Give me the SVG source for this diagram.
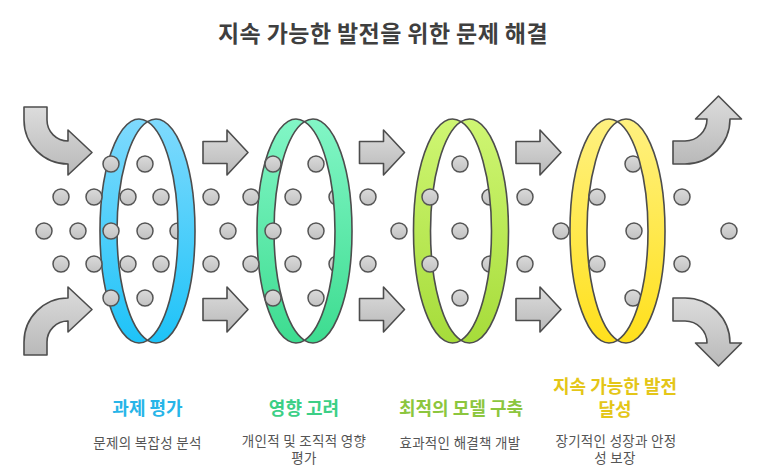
<svg xmlns="http://www.w3.org/2000/svg" width="769" height="474" viewBox="0 0 769 474">
<style>
.edge{stroke:#4d4d4d;stroke-width:1.6;stroke-linejoin:round}
.arrow{fill:url(#gArrow)}
.dot{fill:url(#gDot);stroke:#555;stroke-width:1.5}
.title{font-family:"Noto Sans CJK KR","Noto Sans",sans-serif;font-weight:700;font-size:23px;letter-spacing:0.4px;fill:#3f3f3f;text-anchor:middle}
.label{font-family:"Noto Sans CJK KR","Noto Sans",sans-serif;font-weight:700;font-size:18px;text-anchor:middle}
.desc{font-family:"Noto Sans CJK KR","Noto Sans",sans-serif;font-size:13.5px;letter-spacing:0.3px;fill:#555;text-anchor:middle}
</style>
<defs>
<linearGradient id="gArrow" x1="0" y1="0" x2="0" y2="1"><stop offset="0" stop-color="#dcdcdc"/><stop offset="1" stop-color="#b9b9b9"/></linearGradient>
<linearGradient id="gDot" x1="0" y1="0" x2="0" y2="1"><stop offset="0" stop-color="#dadada"/><stop offset="1" stop-color="#c2c2c2"/></linearGradient>
<linearGradient id="g1" x1="0" y1="0" x2="0" y2="1"><stop offset="0" stop-color="#7fdafd"/><stop offset="1" stop-color="#1ec3f8"/></linearGradient>
<linearGradient id="g2" x1="0" y1="0" x2="0" y2="1"><stop offset="0" stop-color="#82f6c6"/><stop offset="1" stop-color="#3ddc90"/></linearGradient>
<linearGradient id="g3" x1="0" y1="0" x2="0" y2="1"><stop offset="0" stop-color="#cff673"/><stop offset="1" stop-color="#a6dc3a"/></linearGradient>
<linearGradient id="g4" x1="0" y1="0" x2="0" y2="1"><stop offset="0" stop-color="#fff180"/><stop offset="1" stop-color="#ffe01c"/></linearGradient>
</defs>
<rect width="769" height="474" fill="#ffffff"/>
<text class="title" x="383" y="42">지속 가능한 발전을 위한 문제 해결</text>

<g id="connectors">
<path class="arrow edge" d="M24,107 H47 V120 A21 21 0 0 0 68,141 V130 L92,152.5 L68,175 V164 A44 44 0 0 1 24,120 Z"/>
<path class="arrow edge" d="M24,355 H47 V342 A21 21 0 0 1 68,321 V332 L92,309.5 L68,287 V298 A44 44 0 0 0 24,342 Z"/>
<path class="arrow edge" d="M203,141.5 H227 V130 L248,152.5 L227,175 V163.5 H203 Z"/>
<path class="arrow edge" d="M203,298.5 H227 V287 L248,309.5 L227,332 V320.5 H203 Z"/>
<path class="arrow edge" d="M359.5,141.5 H383.5 V130 L404.5,152.5 L383.5,175 V163.5 H359.5 Z"/>
<path class="arrow edge" d="M359.5,298.5 H383.5 V287 L404.5,309.5 L383.5,332 V320.5 H359.5 Z"/>
<path class="arrow edge" d="M516,141.5 H540 V130 L561,152.5 L540,175 V163.5 H516 Z"/>
<path class="arrow edge" d="M516,298.5 H540 V287 L561,309.5 L540,332 V320.5 H516 Z"/>
<path class="arrow edge" d="M673,164 V141 H685 A22 22 0 0 0 707,119 H695.5 L718.5,96 L741.5,119 H730 A45 45 0 0 1 685,164 Z"/>
<path class="arrow edge" d="M673,298 V321 H685 A22 22 0 0 1 707,343 H695.5 L718.5,366 L741.5,343 H730 A45 45 0 0 0 685,298 Z"/>
</g>

<g id="stage1-ring-back"><path class="edge" fill="url(#g1)" d="M147.5,121.7 A39 112 0 1 0 147.5,340.3 A39 112 0 0 1 147.5,121.7 Z"/></g>
<g id="stage2-ring-back"><path class="edge" fill="url(#g2)" d="M304.5,121.7 A39 112 0 1 0 304.5,340.3 A39 112 0 0 1 304.5,121.7 Z"/></g>
<g id="stage3-ring-back"><path class="edge" fill="url(#g3)" d="M461,121.7 A39 112 0 1 0 461,340.3 A39 112 0 0 1 461,121.7 Z"/></g>
<g id="stage4-ring-back"><path class="edge" fill="url(#g4)" d="M617.5,121.7 A39 112 0 1 0 617.5,340.3 A39 112 0 0 1 617.5,121.7 Z"/></g>

<g id="particles">
<circle class="dot" cx="111" cy="164" r="8"/><circle class="dot" cx="145" cy="164" r="8"/><circle class="dot" cx="273" cy="164" r="8"/><circle class="dot" cx="316" cy="164" r="8"/><circle class="dot" cx="460" cy="164" r="8"/><circle class="dot" cx="633" cy="164" r="8"/>
<circle class="dot" cx="61" cy="197" r="8"/><circle class="dot" cx="94" cy="197" r="8"/><circle class="dot" cx="128" cy="197" r="8"/><circle class="dot" cx="161" cy="197" r="8"/><circle class="dot" cx="211" cy="197" r="8"/><circle class="dot" cx="251" cy="197" r="8"/><circle class="dot" cx="293" cy="197" r="8"/><circle class="dot" cx="337" cy="197" r="8"/><circle class="dot" cx="368" cy="197" r="8"/><circle class="dot" cx="430" cy="197" r="8"/><circle class="dot" cx="490" cy="197" r="8"/><circle class="dot" cx="525" cy="197" r="8"/><circle class="dot" cx="597" cy="197" r="8"/><circle class="dot" cx="682" cy="197" r="8"/>
<circle class="dot" cx="44" cy="231" r="8"/><circle class="dot" cx="78" cy="231" r="8"/><circle class="dot" cx="111" cy="231" r="8"/><circle class="dot" cx="145" cy="231" r="8"/><circle class="dot" cx="178" cy="231" r="8"/><circle class="dot" cx="228" cy="231" r="8"/><circle class="dot" cx="273" cy="231" r="8"/><circle class="dot" cx="316" cy="231" r="8"/><circle class="dot" cx="399" cy="231" r="8"/><circle class="dot" cx="460" cy="231" r="8"/><circle class="dot" cx="561" cy="231" r="8"/><circle class="dot" cx="634" cy="231" r="8"/><circle class="dot" cx="729" cy="231" r="8"/>
<circle class="dot" cx="61" cy="264" r="8"/><circle class="dot" cx="94" cy="264" r="8"/><circle class="dot" cx="128" cy="264" r="8"/><circle class="dot" cx="161" cy="264" r="8"/><circle class="dot" cx="211" cy="264" r="8"/><circle class="dot" cx="251" cy="264" r="8"/><circle class="dot" cx="293" cy="264" r="8"/><circle class="dot" cx="337" cy="264" r="8"/><circle class="dot" cx="368" cy="264" r="8"/><circle class="dot" cx="430" cy="264" r="8"/><circle class="dot" cx="490" cy="264" r="8"/><circle class="dot" cx="525" cy="264" r="8"/><circle class="dot" cx="597" cy="264" r="8"/><circle class="dot" cx="682" cy="264" r="8"/>
<circle class="dot" cx="111" cy="298" r="8"/><circle class="dot" cx="145" cy="298" r="8"/><circle class="dot" cx="273" cy="298" r="8"/><circle class="dot" cx="316" cy="298" r="8"/><circle class="dot" cx="460" cy="298" r="8"/><circle class="dot" cx="633" cy="298" r="8"/>
</g>

<g id="stage1">
<path class="edge" fill="url(#g1)" d="M147.5,121.7 A39 112 0 1 1 147.5,340.3 A39 112 0 0 0 147.5,121.7 Z"/>
<text class="label" x="147.5" y="415" fill="#27b5e8">과제 평가</text>
<text class="desc" x="147.5" y="448">문제의 복잡성 분석</text>
</g>
<g id="stage2">
<path class="edge" fill="url(#g2)" d="M304.5,121.7 A39 112 0 1 1 304.5,340.3 A39 112 0 0 0 304.5,121.7 Z"/>
<text class="label" x="304" y="415" fill="#3ccf86">영향 고려</text>
<text class="desc" x="304" y="446"><tspan x="304">개인적 및 조직적 영향</tspan><tspan x="304" dy="17">평가</tspan></text>
</g>
<g id="stage3">
<path class="edge" fill="url(#g3)" d="M461,121.7 A39 112 0 1 1 461,340.3 A39 112 0 0 0 461,121.7 Z"/>
<text class="label" x="461" y="415" fill="#8cc63e">최적의 모델 구축</text>
<text class="desc" x="460" y="448">효과적인 해결책 개발</text>
</g>
<g id="stage4">
<path class="edge" fill="url(#g4)" d="M617.5,121.7 A39 112 0 1 1 617.5,340.3 A39 112 0 0 0 617.5,121.7 Z"/>
<text class="label" x="615" y="393" fill="#e4c618"><tspan x="615">지속 가능한 발전</tspan><tspan x="615" dy="23">달성</tspan></text>
<text class="desc" x="616" y="446"><tspan x="616">장기적인 성장과 안정</tspan><tspan x="615" dy="17">성 보장</tspan></text>
</g>
</svg>
